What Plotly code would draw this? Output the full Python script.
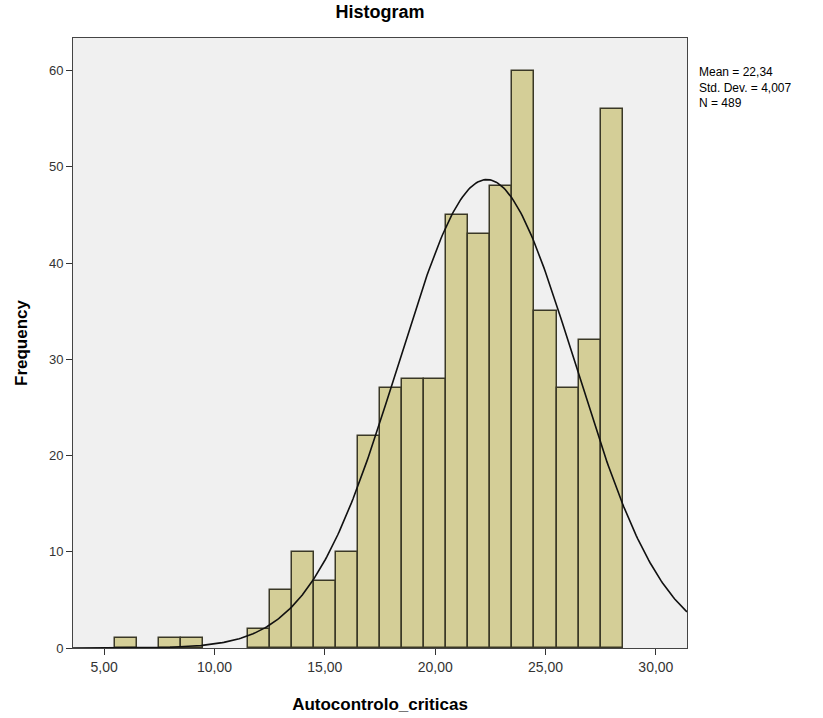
import numpy as np
import plotly.graph_objects as go

# Data (bin centres, width 1)
bin_centers = [6, 8, 9, 12, 13, 14, 15, 16, 17, 18, 19, 20, 21, 22, 23, 24, 25, 26, 27, 28]
frequencies = [1, 1, 1, 2, 6, 10, 7, 10, 22, 27, 28, 28, 45, 43, 48, 60, 35, 27, 32, 56]

stat_mean = 22.34
stat_sd = 4.007
stat_n = 489
bin_width = 1.0

x_tickvals = [5, 10, 15, 20, 25, 30]
x_ticktext = ["5,00", "10,00", "15,00", "20,00", "25,00", "30,00"]
y_tickvals = [0, 10, 20, 30, 40, 50, 60]

x_range = [3.59, 31.41]
y_range = [0, 63.4]

# Normal curve from the displayed statistics
xc = np.linspace(x_range[0], x_range[1], 400)
yc = stat_n * bin_width / (stat_sd * np.sqrt(2 * np.pi)) * np.exp(-0.5 * ((xc - stat_mean) / stat_sd) ** 2)

fig = go.Figure()
fig.add_trace(go.Bar(
    x=bin_centers, y=frequencies, width=bin_width,
    marker=dict(color="#D4CE97", line=dict(color="#3A3826", width=1.5)),
    showlegend=False, hoverinfo="x+y",
))
fig.add_trace(go.Scatter(
    x=xc, y=yc, mode="lines", line=dict(color="#111111", width=1.6),
    showlegend=False, hoverinfo="skip",
))

fig.update_layout(
    width=823, height=718,
    margin=dict(l=73, r=136, t=38, b=70),
    paper_bgcolor="white",
    plot_bgcolor="#F0F0F0",
    bargap=0,
    font=dict(family="Liberation Sans, Arial, sans-serif", color="#222222"),
    title=dict(text="<b>Histogram</b>", x=(73 + 687) / 2 / 823, xanchor="center",
               y=1 - 12 / 718, yanchor="middle", font=dict(size=18, color="#000000")),
)
fig.update_xaxes(
    range=x_range, tickvals=x_tickvals, ticktext=x_ticktext, automargin=False,
    ticks="outside", ticklen=6, tickcolor="#333333", tickwidth=1,
    showline=True, linecolor="#444444", linewidth=1, mirror=True,
    showgrid=False, zeroline=False,
    tickfont=dict(size=14, color="#333333"),
    title=dict(text="<b>Autocontrolo_criticas</b>", font=dict(size=17, color="#000000"), standoff=24),
)
fig.update_yaxes(
    range=y_range, tickvals=y_tickvals, automargin=False,
    ticks="outside", ticklen=6, tickcolor="#333333", tickwidth=1,
    showline=True, linecolor="#444444", linewidth=1, mirror=True,
    showgrid=False, zeroline=False,
    tickfont=dict(size=13, color="#333333"),
    title=dict(text="<b>Frequency</b>", font=dict(size=17, color="#000000"), standoff=16),
)

fig.add_annotation(
    x=(697 - 73) / 614, y=(648 - 63) / 610, xref="paper", yref="paper",
    xanchor="left", yanchor="top", align="left", showarrow=False,
    text="Mean = 22,34<br>Std. Dev. = 4,007<br>N = 489",
    font=dict(size=12, color="#000000"),
)

fig.write_html("out.html")
